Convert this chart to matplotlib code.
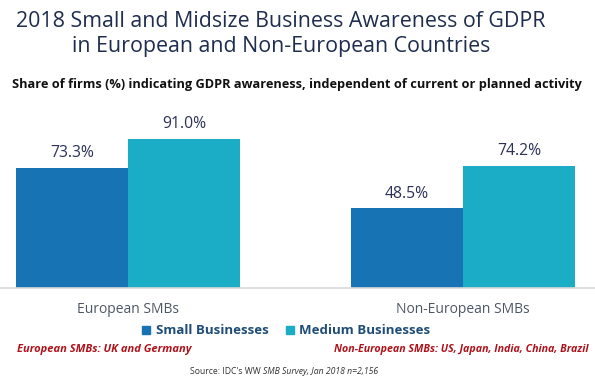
import numpy as np
import matplotlib.pyplot as plt
from matplotlib.patches import Patch

plt.rcParams['font.family'] = ['Open Sans', 'DejaVu Sans']

groups = ['European SMBs', 'Non-European SMBs']
series = ['Small Businesses', 'Medium Businesses']
small = [73.3, 48.5]
medium = [91.0, 74.2]
colors = ['#1773b3', '#1badc5']

fig = plt.figure(figsize=(5.95, 3.81), dpi=100)
ax = fig.add_axes([0, 0.2441, 1, 0.4305])

x = np.arange(len(groups))
w = 0.334
b1 = ax.bar(x - w / 2, small, w, color=colors[0], linewidth=0)
b2 = ax.bar(x + w / 2, medium, w, color=colors[1], linewidth=0)

for bars, vals in [(b1, small), (b2, medium)]:
    for r, v in zip(bars, vals):
        ax.annotate(f'{v:.1f}%', (r.get_x() + r.get_width() / 2, v),
                    xytext=(0, 5), textcoords='offset points',
                    ha='center', va='bottom', fontsize=11.3, color='#2d3157')

ax.set_xlim(-0.382, 1.394)
ax.set_ylim(0, 100)
ax.set_yticks([])
ax.set_xticks(x)
ax.set_xticklabels(groups, fontsize=10, color='#4d5766')
ax.tick_params(axis='x', length=0, pad=10)
for s in ['top', 'left', 'right']:
    ax.spines[s].set_visible(False)
ax.spines['bottom'].set_color('#d9d9d9')
ax.spines['bottom'].set_linewidth(1.2)

# titles
fig.text(0.472, 1 - 27 / 381, '2018 Small and Midsize Business Awareness of GDPR',
         ha='center', va='baseline', fontsize=15.4, color='#1f2d4e')
fig.text(0.473, 1 - 52 / 381, 'in European and Non-European Countries',
         ha='center', va='baseline', fontsize=15.4, color='#1f2d4e')
fig.text(0.499, 1 - 88 / 381,
         'Share of firms (%) indicating GDPR awareness, independent of current or planned activity',
         ha='center', va='baseline', fontsize=9.2, fontweight='bold', color='#111111')

# legend
handles = [Patch(color=c, label=l) for c, l in zip(colors, series)]
leg = fig.legend(handles=handles, loc='center', bbox_to_anchor=(0.481, 1 - 331 / 381),
                 ncol=2, frameon=False, handlelength=0.6, handleheight=0.6,
                 handletextpad=0.4, columnspacing=1.3,
                 prop={'weight': 'bold', 'size': 9.5})
for t in leg.get_texts():
    t.set_color('#1f4d78')

# notes
fig.text(17 / 595, 1 - 352 / 381, 'European SMBs: UK and Germany',
         ha='left', va='baseline', fontsize=8, fontweight='bold', style='italic',
         color='#b0121b')
fig.text(589 / 595, 1 - 352 / 381, 'Non-European SMBs: US, Japan, India, China, Brazil',
         ha='right', va='baseline', fontsize=7.7, fontweight='bold', style='italic',
         color='#b0121b')

src = fig.text(190 / 595, 1 - 374 / 381, "Source: IDC's WW ",
               ha='left', va='baseline', fontsize=6.2, color='#333333')
ax.annotate('SMB Survey, Jan 2018 n=2,156', xy=(1, 0), xycoords=src,
            ha='left', va='bottom', fontsize=6.2, style='italic', color='#333333',
            annotation_clip=False)

fig.savefig('out.png', dpi=100)
